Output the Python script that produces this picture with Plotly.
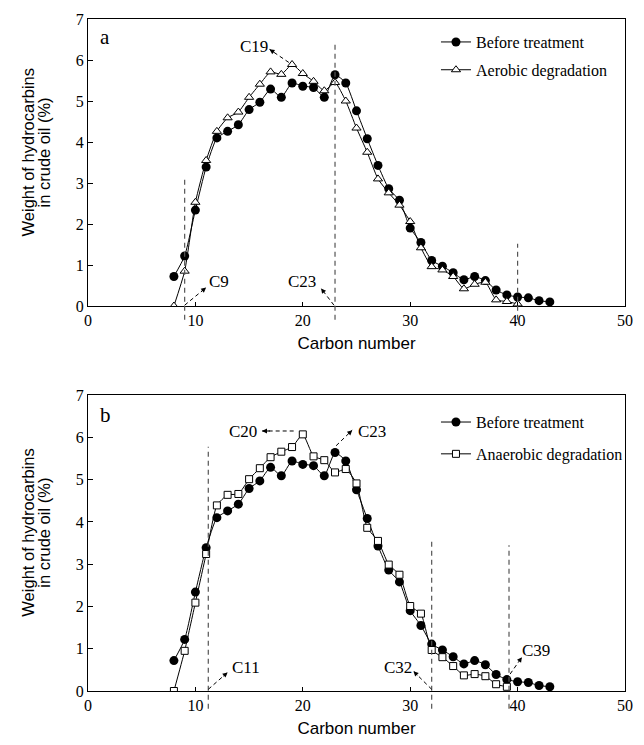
import plotly.graph_objects as go

# ---------------- data ----------------
carbon_before = list(range(8, 44))
before_treatment = [0.72, 1.22, 2.34, 3.39, 4.10, 4.26, 4.42, 4.79, 4.97, 5.29,
                    5.09, 5.44, 5.36, 5.33, 5.09, 5.64, 5.44, 4.76, 4.08, 3.43,
                    2.86, 2.58, 1.90, 1.55, 1.11, 0.97, 0.81, 0.64, 0.72, 0.62,
                    0.39, 0.27, 0.22, 0.20, 0.13, 0.10]

carbon_aerobic = list(range(8, 41))
aerobic = [0.00, 0.85, 2.53, 3.55, 4.26, 4.59, 4.73, 5.09, 5.41, 5.71,
           5.65, 5.89, 5.67, 5.48, 5.25, 5.45, 5.00, 4.34, 3.75, 3.10,
           2.76, 2.46, 2.06, 1.42, 0.96, 0.88, 0.72, 0.42, 0.53, 0.58,
           0.15, 0.11, 0.05]

carbon_anaerobic = list(range(8, 40))
anaerobic = [0.00, 0.95, 2.09, 3.24, 4.39, 4.64, 4.66, 5.01, 5.27, 5.53,
             5.66, 5.77, 6.07, 5.55, 5.46, 5.17, 5.25, 4.91, 3.86, 3.55,
             2.99, 2.75, 2.01, 1.83, 0.97, 0.80, 0.59, 0.37, 0.40, 0.35,
             0.16, 0.10]

x_ticks = [0, 10, 20, 30, 40, 50]
y_ticks = [0, 1, 2, 3, 4, 5, 6, 7]
X_MAX = 50
Y_MAX = 7

# vertical dashed guide lines (carbon number, top value)
guide_a_x = [9, 23, 40]
guide_a_top = [3.16, 6.46, 1.52]
guide_b_x = [11.2, 32, 39.2]
guide_b_top = [5.78, 3.55, 3.45]

# callouts: label, text x, text y, arrow tail x, tail y, head x, head y
callouts_a = [
    ("C19", 15.5, 6.34, 18.7, 5.94, 16.9, 6.26),
    ("C9", 12.2, 0.59, 9.0, 0.02, 11.0, 0.45),
    ("C23", 19.9, 0.59, 22.9, 0.02, 21.7, 0.43),
]
callouts_b = [
    ("C20", 14.4, 6.14, 19.15, 6.15, 16.2, 6.15),
    ("C23", 26.4, 6.13, 23.1, 5.80, 24.6, 6.17),
    ("C11", 14.7, 0.55, 11.2, 0.04, 13.0, 0.44),
    ("C32", 28.9, 0.55, 32.0, 0.04, 30.3, 0.47),
    ("C39", 41.7, 0.95, 39.3, 0.40, 40.4, 0.80),
]

panel_labels = [("a", 1.6, 6.55), ("b", 1.6, 6.53)]

SERIF = "Liberation Serif, Times New Roman, serif"
SANS = "Liberation Sans, Arial, sans-serif"

fig = go.Figure()

line_style = dict(color="black", width=1, shape="spline", smoothing=0.5)

fig.add_trace(go.Scatter(x=carbon_before, y=before_treatment, mode="lines+markers",
                         name="Before treatment", line=line_style,
                         marker=dict(symbol="circle", size=9, color="black"),
                         xaxis="x", yaxis="y", legend="legend", legendgroup="a1"))
fig.add_trace(go.Scatter(x=carbon_aerobic, y=aerobic, mode="lines+markers",
                         name="Aerobic degradation", line=line_style,
                         marker=dict(symbol="triangle-up", size=8, color="white",
                                     line=dict(color="black", width=1)),
                         xaxis="x", yaxis="y", legend="legend", legendgroup="a2"))
fig.add_trace(go.Scatter(x=carbon_before, y=before_treatment, mode="lines+markers",
                         name="Before treatment", line=line_style,
                         marker=dict(symbol="circle", size=9, color="black"),
                         xaxis="x2", yaxis="y2", legend="legend2", legendgroup="b1"))
fig.add_trace(go.Scatter(x=carbon_anaerobic, y=anaerobic, mode="lines+markers",
                         name="Anaerobic degradation", line=line_style,
                         marker=dict(symbol="square", size=7, color="white",
                                     line=dict(color="black", width=1)),
                         xaxis="x2", yaxis="y2", legend="legend2", legendgroup="b2"))

shapes = []
annotations = []

def add_guides(xs, tops, xref, yref, ext):
    for gx, gt in zip(xs, tops):
        shapes.append(dict(type="line", xref=xref, yref=yref + " domain",
                           x0=gx, x1=gx, y0=-ext, y1=gt / Y_MAX,
                           line=dict(color="#555555", width=1.2, dash="5px,4px")))

add_guides(guide_a_x, guide_a_top, "x", "y", 0.048)
add_guides(guide_b_x, guide_b_top, "x2", "y2", 0.06)

def add_callouts(items, xref, yref):
    for lab, txx, txy, tx, ty, hx, hy in items:
        annotations.append(dict(text=lab, x=txx, y=txy, xref=xref, yref=yref,
                                showarrow=False, font=dict(family=SERIF, size=17, color="black")))
        shapes.append(dict(type="line", xref=xref, yref=yref, x0=tx, y0=ty, x1=hx, y1=hy,
                           line=dict(color="black", width=1, dash="4px,3px")))
        annotations.append(dict(text="", x=hx, y=hy, xref=xref, yref=yref,
                                ax=hx - 0.3 * (hx - tx), ay=hy - 0.3 * (hy - ty),
                                axref=xref, ayref=yref, showarrow=True,
                                arrowhead=2, arrowsize=1, arrowwidth=1,
                                arrowcolor="black", standoff=0, startstandoff=0))

add_callouts(callouts_a, "x", "y")
add_callouts(callouts_b, "x2", "y2")

for (lab, lx, ly), (xr, yr) in zip(panel_labels, [("x", "y"), ("x2", "y2")]):
    annotations.append(dict(text=lab, x=lx, y=ly, xref=xr, yref=yr, showarrow=False,
                            font=dict(family=SERIF, size=21, color="black")))

# y-axis titles (two tightly spaced lines)
for yr in ["y", "y2"]:
    annotations.append(dict(text="Weight of hydrocarbins", xref="paper", yref=yr + " domain",
                            x=0, y=0.535, xshift=-60, xanchor="center", yanchor="middle",
                            textangle=-90, showarrow=False,
                            font=dict(family=SANS, size=16.5, color="black")))
    annotations.append(dict(text="in crude oil (%)", xref="paper", yref=yr + " domain",
                            x=0, y=0.535, xshift=-44, xanchor="center", yanchor="middle",
                            textangle=-90, showarrow=False,
                            font=dict(family=SANS, size=16.5, color="black")))

xaxis_common = dict(range=[0, X_MAX], tickvals=x_ticks, ticks="inside", ticklen=4,
                    tickcolor="black", showline=True, linecolor="black", linewidth=1,
                    mirror=True, showgrid=False, zeroline=False,
                    tickfont=dict(family=SERIF, size=16, color="black"),
                    title=dict(text="Carbon number", font=dict(family=SANS, size=17, color="black"),
                               standoff=8))
yaxis_common = dict(range=[0, Y_MAX], tickvals=y_ticks, ticks="inside", ticklen=5,
                    tickcolor="black", showline=True, linecolor="black", linewidth=1,
                    mirror=True, showgrid=False, zeroline=False,
                    tickfont=dict(family=SERIF, size=16, color="black"))

legend_common = dict(font=dict(family=SERIF, size=16, color="black"), bgcolor="rgba(0,0,0,0)",
                     xanchor="left", yanchor="top", itemwidth=30)

fig.update_layout(
    width=644, height=745,
    margin=dict(l=88, r=11, t=16, b=50),
    paper_bgcolor="white", plot_bgcolor="white",
    xaxis=dict(domain=[0, 1], anchor="y", **xaxis_common),
    yaxis=dict(domain=[0.5729, 1], anchor="x", **yaxis_common),
    xaxis2=dict(domain=[0, 1], anchor="y2", **xaxis_common),
    yaxis2=dict(domain=[0, 0.4404], anchor="x2", **yaxis_common),
    legend=dict(x=0.648, y=0.991, tracegroupgap=4, **legend_common),
    legend2=dict(x=0.648, y=0.4404 - 0.015, tracegroupgap=8, **legend_common),
    shapes=shapes,
    annotations=annotations,
    showlegend=True,
)

fig.write_html("out.html")
